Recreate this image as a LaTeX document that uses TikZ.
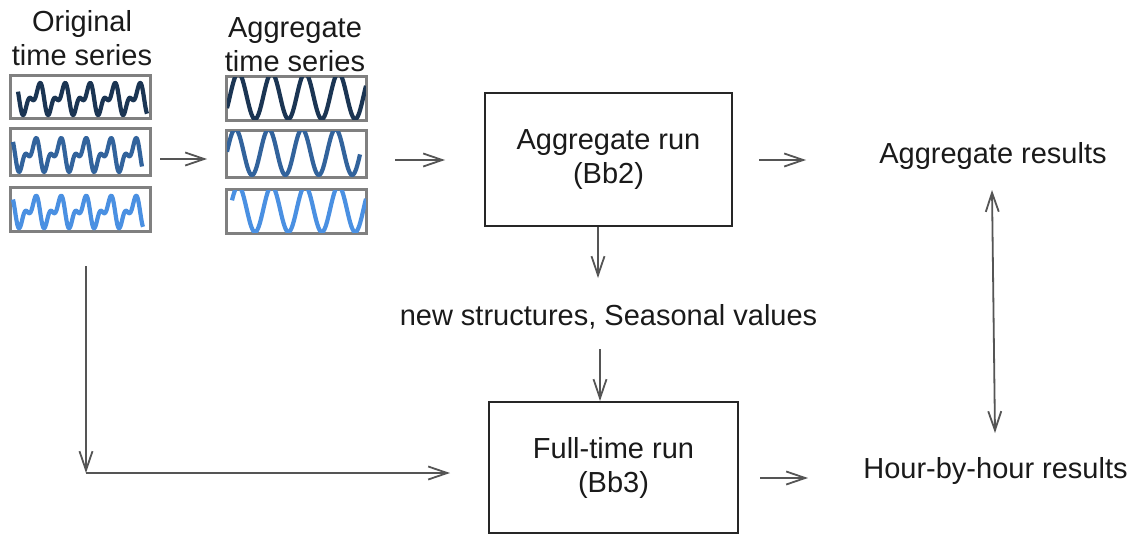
\documentclass[tikz,border=0pt]{standalone}
\usepackage{fontspec}
\setmainfont{Liberation Sans}
\usetikzlibrary{arrows.meta}
\definecolor{wdark}{HTML}{1B3553}
\definecolor{wmid}{HTML}{32639C}
\definecolor{wlight}{HTML}{4A90E2}
\definecolor{arrgray}{HTML}{555555}
\definecolor{boxgray}{HTML}{808080}
\definecolor{txt}{HTML}{1A1A1A}
\tikzset{
  lbl/.style={font=\fontsize{29}{34}\selectfont, text=txt, inner sep=0pt, align=center},
  runbox/.style={draw=black!85, line width=2pt, font=\fontsize{29}{34}\selectfont, text=txt, align=center, inner sep=0pt},
  wbox/.style={draw=boxgray, line width=2pt, inner sep=0pt, minimum width=139pt},
  wave/.style={line width=4.2pt, line join=round},
  arr/.style={draw=arrgray, line width=1.8pt, -{Straight Barb[length=19pt,width=13pt]}},
  darr/.style={draw=arrgray, line width=1.8pt, {Straight Barb[length=19pt,width=13pt]}-{Straight Barb[length=19pt,width=13pt]}}
}
\begin{document}
\begin{tikzpicture}[x=1pt,y=-1pt]
\useasboundingbox (0,0) rectangle (1147,535);
\fill[white] (0,0) rectangle (1147,535);

% titles
\node[lbl] (otitle) at (82,38.5) {Original\\time series};
\node[lbl] (atitle) at (295,45) {Aggregate\\time series};

% time-series boxes
\node[wbox, minimum height=42pt] (o1) at (80.5,97) {};
\node[wbox, minimum height=46pt] (o2) at (80.5,152) {};
\node[wbox, minimum height=43pt] (o3) at (80.5,209.5) {};
\node[wbox, minimum height=43pt] (a1) at (296.5,98.5) {};
\node[wbox, minimum height=46pt] (a2) at (296.5,154) {};
\node[wbox, minimum height=43pt] (a3) at (296.5,211.5) {};

% original waves
\begin{scope}
\clip (o1.south west) rectangle (o1.north east);
\draw[wave, wdark] plot[domain=18:147, samples=260, smooth] (\x, {99-10.9*(cos(30+(\x-40)*14.4)+0.7*sin(60+2*(\x-40)*14.4))});
\end{scope}
\begin{scope}
\clip (o2.south west) rectangle (o2.north east);
\draw[wave, wmid] plot[domain=13:142, samples=260, smooth] (\x, {155-11.5*(cos(30+(\x-36)*14.4)+0.7*sin(60+2*(\x-36)*14.4))});
\end{scope}
\begin{scope}
\clip (o3.south west) rectangle (o3.north east);
\draw[wave, wlight] plot[domain=13:143, samples=260, smooth] (\x, {212-11*(cos(30+(\x-36)*14.4)+0.7*sin(60+2*(\x-36)*14.4))});
\end{scope}

% aggregate waves
\begin{scope}
\clip (a1.south west) rectangle (a1.north east);
\draw[wave, wdark] plot[domain=227:366, samples=260, smooth] (\x, {96+23*cos((\x-255)*10.778)});
\end{scope}
\begin{scope}
\clip (a2.south west) rectangle (a2.north east);
\draw[wave, wmid] plot[domain=227:360, samples=260, smooth] (\x, {152+23*cos((\x-252)*10.778)});
\end{scope}
\begin{scope}
\clip (a3.south west) rectangle (a3.north east);
\draw[wave, wlight] plot[domain=232:366, samples=260, smooth] (\x, {209+23*cos((\x-255)*10.778)});
\end{scope}

% redraw box borders on top
\foreach \b in {o1,o2,o3,a1,a2,a3}{
  \draw[boxgray, line width=2pt] (\b.south west) rectangle (\b.north east);
}

% run boxes
\node[runbox, minimum width=247pt, minimum height=133pt] (agg) at (608.5,159.5) {Aggregate run\\(Bb2)};
\node[runbox, minimum width=249pt, minimum height=131pt] (full) at (613.5,467.5) {Full-time run\\(Bb3)};

% result labels
\node[lbl, anchor=base] (aggres) at (993,163) {Aggregate results};
\node[lbl, anchor=base] (hourres) at (995.5,478) {Hour-by-hour results};
\node[lbl, anchor=base] (newstr) at (608.5,325) {new structures, Seasonal values};

% connector coordinates
\coordinate (c1s) at (160,159);
\coordinate (c1e) at (207,159);
\coordinate (c2s) at (395,160);
\coordinate (c3e) at (806,160);
\coordinate (d1) at (598,278);
\coordinate (d2) at (600,349);
\coordinate (l0) at (86,266);
\coordinate (corner) at (86,473);
\coordinate (l1) at (450,473);
\coordinate (c4s) at (760,478);
\coordinate (c4e) at (808,478);
\coordinate (v0) at (992,190);
\coordinate (v1) at (995,433);

\draw[arr] (c1s) -- (c1e);
\draw[arr] (c2s) -- ([xshift=-39pt]agg.west |- c2s);
\draw[arr] ([xshift=26pt]agg.east |- c3e) -- (c3e);
\draw[arr] (agg.south -| d1) -- (d1);
\draw[arr] (d2) -- (full.north -| d2);
\draw[arr] (l0) -- (corner);
\draw[arr] (corner) -- (l1);
\draw[arr] (c4s) -- (c4e);
\draw[darr] (v0) -- (v1);
\end{tikzpicture}
\end{document}
